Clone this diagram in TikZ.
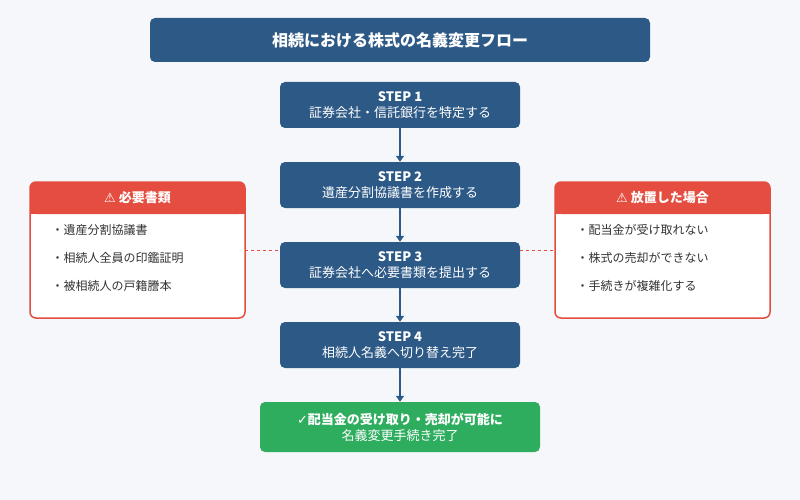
\documentclass[tikz,border=0pt]{standalone}
\usepackage{fontspec}
\setmainfont{Noto Sans CJK JP}
\newfontfamily\symfont{DejaVu Sans}
\usetikzlibrary{positioning,arrows.meta}
\definecolor{bgc}{HTML}{F5F7FA}
\definecolor{navy}{HTML}{2D5986}
\definecolor{warn}{HTML}{E44D3F}
\definecolor{okgreen}{HTML}{2EAD5F}
\definecolor{txt}{HTML}{333333}
\tikzset{
  stepbox/.style={fill=navy,rounded corners=5pt,minimum width=240pt,minimum height=46pt,text=white,align=center,font=\fontsize{13}{16}\selectfont},
  item/.style={anchor=west,text=txt,font=\fontsize{12}{14}\selectfont},
  flow/.style={navy,line width=2pt,-{Triangle[length=6pt,width=8pt]}},
}
\begin{document}
\begin{tikzpicture}[x=1pt,y=-1pt]
    \fill[bgc] (0,0) rectangle (800,500);

    % Title
    \node[fill=navy,rounded corners=5pt,minimum width=500pt,minimum height=44pt,text=white,font=\fontsize{16}{18}\selectfont\bfseries] (title) at (400,40) {相続における株式の名義変更フロー};

    % Steps
    \node[stepbox] (s1) at (400,105) {\textbf{STEP 1}\\証券会社・信託銀行を特定する};
    \node[stepbox] (s2) at (400,185) {\textbf{STEP 2}\\遺産分割協議書を作成する};
    \node[stepbox] (s3) at (400,265) {\textbf{STEP 3}\\証券会社へ必要書類を提出する};
    \node[stepbox] (s4) at (400,345) {\textbf{STEP 4}\\相続人名義へ切り替え完了};
    \node[stepbox,fill=okgreen,minimum width=280pt,minimum height=50pt] (done) at (400,427) {\textbf{{\symfont ✓}配当金の受け取り・売却が可能に}\\名義変更手続き完了};

    \draw[flow] (s1) -- (s2);
    \draw[flow] (s2) -- (s3);
    \draw[flow] (s3) -- (s4);
    \draw[flow] (s4) -- (done);

    % Side panels
    \draw[warn,line width=1.5pt,fill=white,rounded corners=6pt] (30,182) rectangle (245,318);
    \fill[warn,rounded corners=6pt] (30,182) rectangle (245,214);
    \fill[warn] (30,200) rectangle (245,214);
    \node[text=white,font=\fontsize{13}{15}\selectfont\bfseries] (need) at (137.5,198) {{\symfont ⚠} 必要書類};
    \node[item] (n1) at (48,230) {・遺産分割協議書};
    \node[item] (n2) at (48,258) {・相続人全員の印鑑証明};
    \node[item] (n3) at (48,286) {・被相続人の戸籍謄本};

    \draw[warn,line width=1.5pt,fill=white,rounded corners=6pt] (555,182) rectangle (770,318);
    \fill[warn,rounded corners=6pt] (555,182) rectangle (770,214);
    \fill[warn] (555,200) rectangle (770,214);
    \node[text=white,font=\fontsize{13}{15}\selectfont\bfseries] (risk) at (662.5,198) {{\symfont ⚠} 放置した場合};
    \node[item] (r1) at (573,230) {・配当金が受け取れない};
    \node[item] (r2) at (573,258) {・株式の売却ができない};
    \node[item] (r3) at (573,286) {・手続きが複雑化する};

    % Links
    \coordinate (lp) at (245,250);
    \coordinate (rp) at (555,250);
    \draw[warn,dashed,line width=1pt] (lp) -- (s3.west |- lp);
    \draw[warn,dashed,line width=1pt] (s3.east |- rp) -- (rp);
\end{tikzpicture}
\end{document}
